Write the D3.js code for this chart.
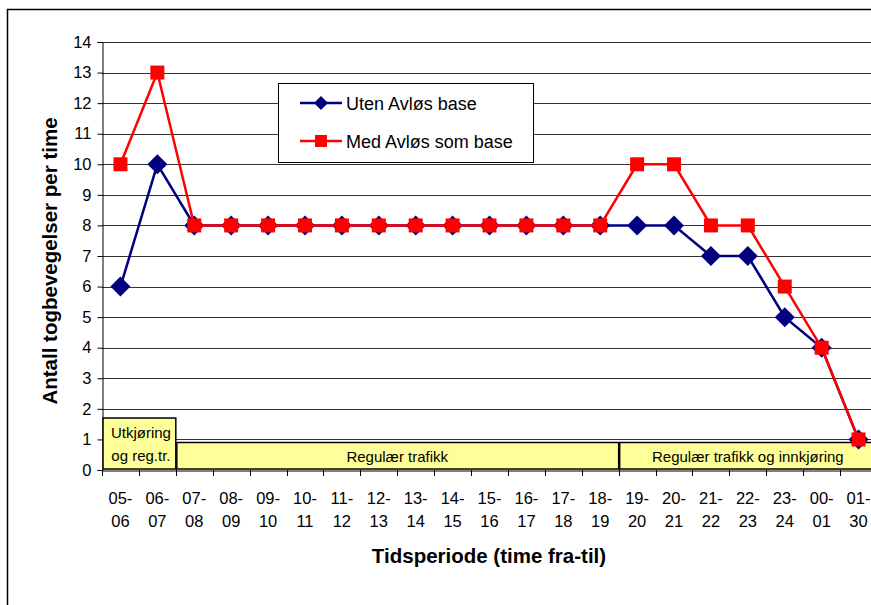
<!DOCTYPE html>
<html><head><meta charset="utf-8">
<script src="https://cdn.jsdelivr.net/npm/d3@7"></script>
<style>
html,body{margin:0;padding:0;background:#fff;overflow:hidden}
text{font-family:Arial,"Liberation Sans",sans-serif}
</style></head>
<body><svg id="c" width="871" height="605"></svg>
<script>
const categories = ["05-06","06-07","07-08","08-09","09-10","10-11","11-12","12-13","13-14","14-15","15-16","16-17","17-18","18-19","19-20","20-21","21-22","22-23","23-24","00-01","01-30"];
const utenAvlos = [6,10,8,8,8,8,8,8,8,8,8,8,8,8,8,8,7,7,5,4,1];
const medAvlos  = [10,13,8,8,8,8,8,8,8,8,8,8,8,8,10,10,8,8,6,4,1];
const yTicks = [0,1,2,3,4,5,6,7,8,9,10,11,12,13,14];
const seriesNames = ["Uten Avløs base","Med Avløs som base"];
const phaseLabels = [["Utkjøring","og reg.tr."],["Regulær trafikk"],["Regulær trafikk og innkjøring"]];
const phaseStart = [0,2,14];
const phaseEnd = [2,14,21];
const phaseTop = [1.7,0.9,0.9];

const svg = d3.select("#c");
const L=102, R=877, T=42, B=470;
const x = d3.scaleBand().domain(categories).range([L,R]).padding(0);
const y = d3.scaleLinear().domain([0,14]).range([B,T]);
const bw = x.bandwidth();

// outer frame
svg.append("path").attr("d","M7.5,605 L7.5,9.5 L871,9.5").attr("fill","none").attr("stroke","#000").attr("stroke-width",1.5);

// grid
svg.append("g").selectAll("line").data(yTicks.filter(d=>d>0)).join("line")
  .attr("x1",L).attr("x2",R).attr("y1",d=>Math.round(y(d))+0.5).attr("y2",d=>Math.round(y(d))+0.5)
  .attr("stroke","#333").attr("stroke-width",1);

// y axis
const ya = svg.append("g").attr("transform",`translate(${L+0.5},0)`)
  .call(d3.axisLeft(y).tickValues(yTicks).tickSize(5).tickPadding(6).tickFormat(d3.format("d")));
ya.select(".domain").attr("stroke","#000");
ya.selectAll("line").attr("stroke","#000");
ya.selectAll("text").attr("font-size",16.5).attr("fill","#000").attr("font-family","Arial,'Liberation Sans',sans-serif");

// x axis
const xa = svg.append("g").attr("transform",`translate(0,${B+0.5})`)
  .call(d3.axisBottom(x).tickSize(0).tickFormat(""));
xa.select(".domain").attr("stroke","#000");
svg.append("g").selectAll("line").data(d3.range(categories.length+1)).join("line")
  .attr("x1",i=>Math.round(L+i*bw)+0.5).attr("x2",i=>Math.round(L+i*bw)+0.5)
  .attr("y1",B).attr("y2",B+6).attr("stroke","#000");
const xl = svg.append("g").selectAll("text").data(categories).join("text")
  .attr("x",d=>x(d)+bw/2).attr("y",B+34).attr("text-anchor","middle").attr("font-size",16.5).attr("fill","#000");
xl.append("tspan").attr("x",d=>x(d)+bw/2).text(d=>d.split("-")[0]+"-");
xl.append("tspan").attr("x",d=>x(d)+bw/2).attr("dy",23).text(d=>d.split("-")[1]);

// phase boxes
phaseLabels.forEach((lab,i)=>{
  const x0 = L+phaseStart[i]*bw, x1 = L+phaseEnd[i]*bw;
  const yt = y(phaseTop[i]);
  svg.append("rect").attr("x",x0+1).attr("y",yt).attr("width",x1-x0-1).attr("height",B-yt-1)
    .attr("fill","#ffff99").attr("stroke","#000").attr("stroke-width",1.5);
  const cy = (yt+B)/2;
  lab.forEach((t,j)=>{
    svg.append("text").attr("x",(x0+x1)/2+(i===0?2:0)).attr("y",cy+5.5+(j-(lab.length-1)/2)*23)
      .attr("text-anchor","middle").attr("font-size",15).attr("fill","#000").text(t);
  });
});

// lines
const line = d3.line().x((d,i)=>x(categories[i])+bw/2).y(d=>y(d));
svg.append("path").datum(utenAvlos).attr("d",line).attr("fill","none").attr("stroke","#000080").attr("stroke-width",2.5);
svg.append("g").selectAll("path").data(utenAvlos).join("path")
  .attr("transform",(d,i)=>`translate(${x(categories[i])+bw/2},${y(d)})`)
  .attr("d","M0,-10 L10,0 L0,10 L-10,0 Z").attr("fill","#000080");
svg.append("path").datum(medAvlos).attr("d",line).attr("fill","none").attr("stroke","#ff0000").attr("stroke-width",2.5);
svg.append("g").selectAll("rect").data(medAvlos).join("rect")
  .attr("x",(d,i)=>x(categories[i])+bw/2-7).attr("y",d=>y(d)-7).attr("width",14).attr("height",14).attr("fill","#ff0000");

// legend
const lg = svg.append("g");
lg.append("rect").attr("x",278.5).attr("y",83.5).attr("width",255).attr("height",79).attr("fill","#fff").attr("stroke","#000").attr("stroke-width",1);
lg.append("line").attr("x1",300).attr("x2",342).attr("y1",103).attr("y2",103).attr("stroke","#000080").attr("stroke-width",2.5);
lg.append("path").attr("transform","translate(321,103)").attr("d","M0,-7 L7,0 L0,7 L-7,0 Z").attr("fill","#000080");
lg.append("line").attr("x1",300).attr("x2",342).attr("y1",141).attr("y2",141).attr("stroke","#ff0000").attr("stroke-width",2.5);
lg.append("rect").attr("x",315).attr("y",135).attr("width",12).attr("height",12).attr("fill","#ff0000");
lg.append("text").attr("x",346).attr("y",109.5).attr("font-size",18).attr("fill","#000").text(seriesNames[0]);
lg.append("text").attr("x",346).attr("y",147.5).attr("font-size",18).attr("fill","#000").text(seriesNames[1]);

// titles
svg.append("text").attr("transform","translate(57,261) rotate(-90)").attr("text-anchor","middle")
  .attr("font-size",20.5).attr("font-weight","bold").attr("fill","#000").text("Antall togbevegelser per time");
svg.append("text").attr("x",489).attr("y",563).attr("text-anchor","middle")
  .attr("font-size",20.5).attr("font-weight","bold").attr("fill","#000").text("Tidsperiode (time fra-til)");
</script></body></html>
